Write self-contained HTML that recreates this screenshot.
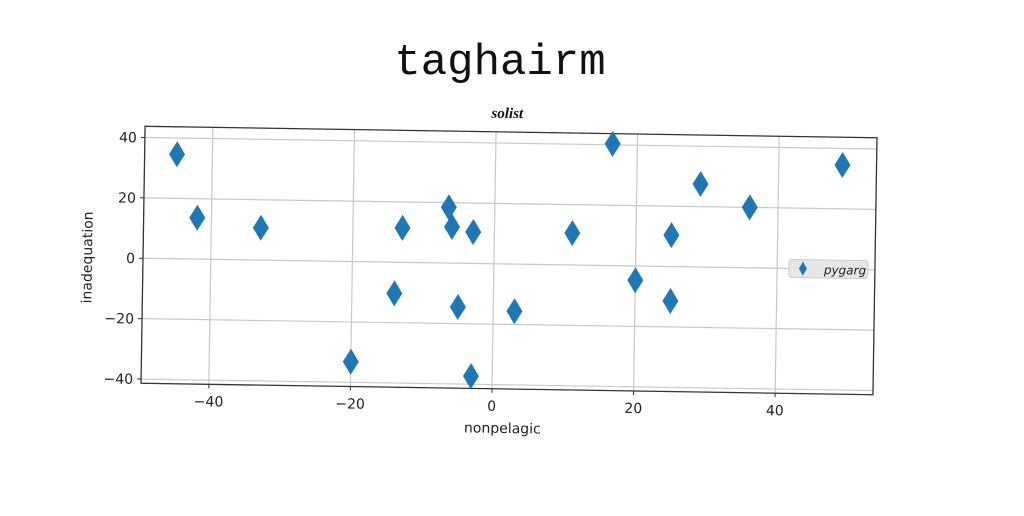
<!DOCTYPE html>
<html><head><meta charset="utf-8"><style>
body{margin:0;width:1024px;height:512px;background:#fff;overflow:hidden;font-family:"DejaVu Sans","Liberation Sans",sans-serif}
</style></head><body>
<svg width="1024" height="512">
<text x="500" y="74" text-anchor="middle" font-family="Liberation Mono, monospace" font-size="44" fill="#111">taghairm</text>
<g id="plot" transform="rotate(0.9 508 261)"></g>
</svg>
<script>
const xs=[-45,-42,-33,-20,-14,-13,-6.5,-6,-5,-3,-3,3,11,16.5,20,25,25,29,36,49];
const ys=[34.6,13.7,10.7,-33.2,-10.3,11.4,18.5,12,-14.5,10.4,-37.3,-15.6,10.6,40.3,-4.7,10.4,-11.4,27.5,20,34.5];
const xTicks=[-40,-20,0,20,40];
const yTicks=[-40,-20,0,20,40];
const L=143,R=875,T=132,B=389;
const sx=v=>494+v*7.08, sy=v=>264-v*3.02;
const g=document.getElementById('plot');const NS='http://www.w3.org/2000/svg';
function el(t,a,txt){const e=document.createElementNS(NS,t);for(const k in a)e.setAttribute(k,a[k]);if(txt!=null)e.textContent=txt;g.appendChild(e);return e;}
let r=el('rect',{x:L,y:T,width:R-L,height:B-T,fill:'#fff',stroke:'none'});


xTicks.forEach(v=>{const x=sx(v);
 let l=el('line',{x1:x,x2:x,y1:T,y2:B,stroke:'#c8c8c8','stroke-width':1.2});
 
 
 el('line',{x1:x,x2:x,y1:B,y2:B+4,stroke:'#333'});
 let t=el('text',{x:x,y:B+22,'text-anchor':'middle','font-size':14,fill:'#222'},String(v).replace('-','\u2212'));
 
 });
yTicks.forEach(v=>{const y=sy(v);
 let l=el('line',{x1:L,x2:R,y1:y,y2:y,stroke:'#c8c8c8','stroke-width':1.2});
 
 
 el('line',{x1:L-4,x2:L,y1:y,y2:y,stroke:'#333'});
 let t=el('text',{x:L-8,y:y+5,'text-anchor':'end','font-size':14,fill:'#222'},String(v).replace('-','\u2212'));
 
 });
let fr=el('rect',{x:L,y:T,width:R-L,height:B-T,fill:'none',stroke:'#333','stroke-width':1.3});


xs.forEach((v,i)=>{const x=sx(v),y=sy(ys[i]);
 let p=el('polygon',{points:`${x},${y-13} ${x+8},${y} ${x},${y+13} ${x-8},${y}`,fill:'#1f77b4'});
 
 });
let st=el('text',{x:505,y:T-14,'text-anchor':'middle','font-size':15,'font-style':'italic','font-weight':'bold','font-family':'Liberation Serif, serif',fill:'#111'},'solist');


let xl=el('text',{x:505,y:B+44,'text-anchor':'middle','font-size':14,fill:'#222'},'nonpelagic');


let yl=el('text',{x:0,y:0,'text-anchor':'middle','font-size':14,fill:'#222',transform:`translate(92 ${sy(0)}) rotate(-90)`},'inadequation');


let lg=el('rect',{x:789,y:255,width:79,height:18,rx:3,fill:'#e6e6e6',stroke:'#ccc'});


let lm=el('polygon',{points:'803,257 807,264 803,271 799,264',fill:'#1f77b4'});


let lt=el('text',{x:824,y:269,'font-size':12,'font-style':'italic',fill:'#222'},'pygarg');


</script>
</body></html>
